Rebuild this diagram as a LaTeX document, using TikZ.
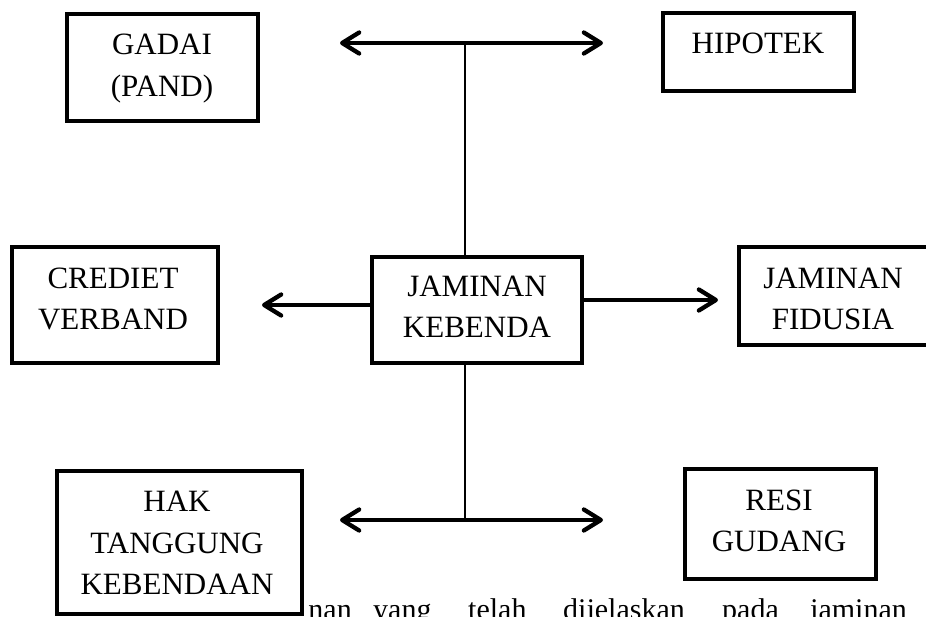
\documentclass[tikz,border=0pt]{standalone}
\usepackage{fontspec}
\setmainfont{Liberation Serif}
\usetikzlibrary{arrows.meta}
\begin{document}
\begin{tikzpicture}[x=1pt,y=-1pt,
  box/.style={draw, line width=3.8pt, fill=white, inner sep=0pt},
  lbl/.style={font=\fontsize{31}{41.5}\selectfont, align=center, inner sep=0pt},
  word/.style={font=\fontsize{30}{36}\selectfont, inner sep=0pt},
  tipb/.tip={Straight Barb[length=17pt,width=21pt,line join=round,line cap=round]},
  arr/.style={line width=4.3pt, line cap=round, -tipb},
  arrb/.style={line width=4.3pt, line cap=round, tipb-tipb},
  thinline/.style={line width=1.3pt}]
\useasboundingbox (0,0) rectangle (926,616);

% running text below the diagram
\node[word, anchor=base east] (w1) at (352,619) {nan};
\node[word, anchor=base west] (w2) at (373,619) {yang};
\node[word, anchor=base west] (w3) at (468,619) {telah};
\node[word, anchor=base west] (w4) at (563,619) {dijelaskan};
\node[word, anchor=base west] (w5) at (722,619) {pada};
\node[word, anchor=base west] (w6) at (810,619) {jaminan};

% boxes
\node[box, minimum width=191pt, minimum height=107pt] (gadai) at (162.5,67.5) {};
\node[lbl] (gadait) at (162,68.5) {GADAI\\(PAND)};

\node[box, minimum width=191pt, minimum height=78pt] (hipo) at (758.5,52) {};
\node[lbl] (hipot) at (758,43) {HIPOTEK};

\node[box, minimum width=206pt, minimum height=116pt] (cred) at (115,305) {};
\node[lbl] (credt) at (113,299) {CREDIET\\VERBAND};

\node[box, minimum width=210pt, minimum height=106pt] (jk) at (477,310) {};
\node[lbl] (jkt) at (477,307) {JAMINAN\\KEBENDA};

\node[box, minimum width=190pt, minimum height=98pt] (fid) at (834,296) {};
\node[lbl] (fidt) at (833,299) {JAMINAN\\FIDUSIA};

\node[box, minimum width=245pt, minimum height=143pt] (hak) at (179.5,542.5) {};
\node[lbl] (hakt) at (177,543) {HAK\\TANGGUNG\\KEBENDAAN};

\node[box, minimum width=191pt, minimum height=110pt] (resi) at (780.5,524) {};
\node[lbl] (resit) at (779,521) {RESI\\GUDANG};

% connectors
\coordinate (tl) at (340,43);
\coordinate (tr) at (603,43);
\coordinate (tm) at (465,43);
\coordinate (bl) at (340,520);
\coordinate (br) at (603,520);
\coordinate (bm) at (465,520);
\coordinate (lt) at (262,305);
\coordinate (rt) at (718,300);

\draw[thinline] (tm) -- (tm |- jk.north);
\draw[thinline] (bm) -- (bm |- jk.south);
\draw[arrb] (tl) -- (tr);
\draw[arrb] (bl) -- (br);
\draw[arr] (jk.west |- lt) -- (lt);
\draw[arr] (jk.east |- rt) -- (rt);
\end{tikzpicture}
\end{document}
